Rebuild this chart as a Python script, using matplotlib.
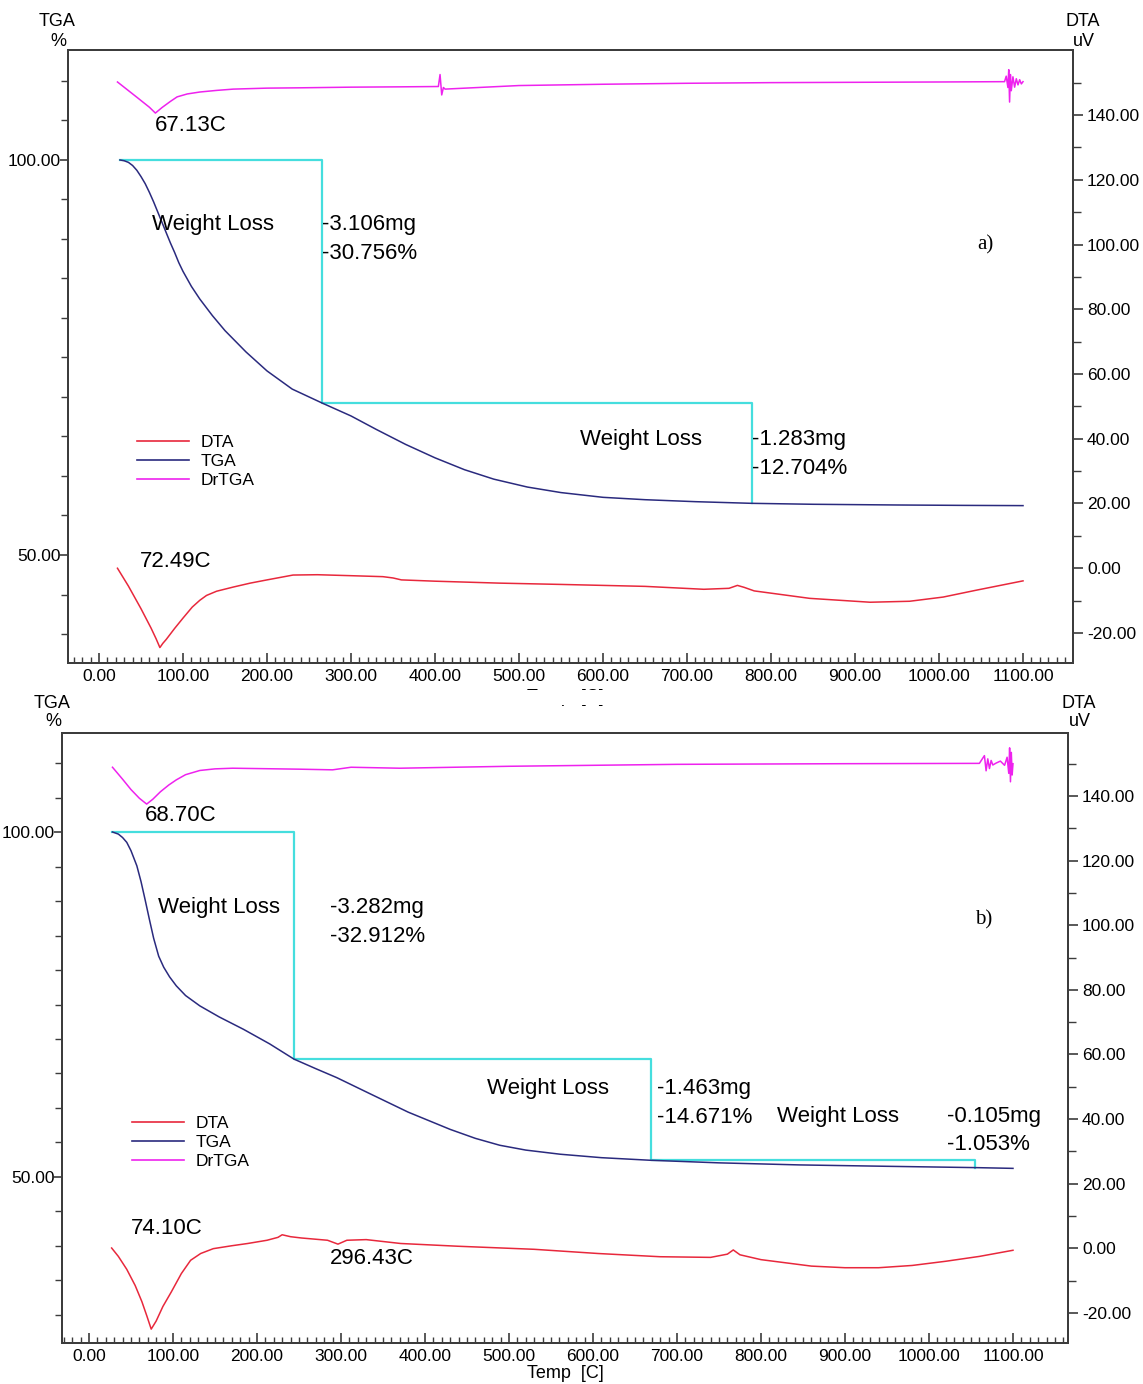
import numpy as np
import matplotlib.pyplot as plt
from matplotlib.ticker import MultipleLocator, FixedLocator, FormatStrFormatter
from matplotlib.patches import Rectangle

plt.rcParams['font.family'] = ['Liberation Sans', 'DejaVu Sans']
plt.rcParams['axes.unicode_minus'] = False

# ---------------- panel a) data ----------------
tga_a_T = [25, 30, 35, 40, 45, 50, 55, 60, 65, 70, 75, 80, 85, 90, 95, 100, 110, 120, 135, 150, 175, 200, 230,
           265.5, 300, 330, 365, 400, 435, 470, 510, 550, 600, 650, 710, 777, 850, 950, 1030, 1100]
tga_a_w = [100, 99.9, 99.7, 99.3, 98.7, 97.9, 97.0, 95.9, 94.7, 93.4, 92.1, 90.8, 89.5, 88.3, 87.0, 85.9, 84.0,
           82.4, 80.3, 78.4, 75.7, 73.3, 71.0, 69.24, 67.6, 65.9, 64.0, 62.3, 60.8, 59.6, 58.6, 57.9, 57.3, 57.0,
           56.75, 56.54, 56.42, 56.33, 56.28, 56.25]

dta_a_T = [22, 35, 50, 62, 68, 72.49, 76, 80, 90, 100, 111, 120, 128, 140, 160, 180, 200, 231, 260, 300, 338, 350,
           360, 400, 477, 550, 650, 720, 750, 760, 768, 780, 846, 918, 965, 1005, 1044, 1100]
dta_a_v = [0.0, -5.5, -12.5, -18.5, -21.8, -24.5, -23.2, -22.0, -18.6, -15.4, -12.0, -9.9, -8.4, -7.1, -5.8, -4.6,
           -3.6, -2.1, -2.0, -2.3, -2.6, -3.0, -3.6, -4.0, -4.6, -5.0, -5.6, -6.5, -6.2, -5.3, -5.9, -7.0, -9.3,
           -10.5, -10.2, -8.9, -6.8, -3.9]

drtga_a_T = [22, 45, 60, 67.13, 75, 85, 93, 105, 120, 140, 160, 200, 239, 300, 358, 404, 406, 408, 410, 412, 500,
             600, 700, 800, 900, 1000, 1078, 1080, 1082, 1083, 1084, 1085, 1086, 1088, 1090, 1092, 1094, 1096,
             1098, 1100]
drtga_a_v = [150.2, 145.5, 142.4, 140.6, 142.3, 144.2, 145.6, 146.5, 147.1, 147.6, 148.0, 148.3, 148.4, 148.6,
             148.7, 148.8, 152.5, 146.2, 148.5, 148.0, 149.1, 149.5, 149.8, 150.0, 150.1, 150.2, 150.3, 152.0,
             148.5, 154.0, 144.0, 152.5, 147.5, 151.8, 148.6, 151.2, 149.3, 150.9, 149.6, 150.3]

steps_a_T = [25, 265.5, 777]          # start, step temperatures
steps_a_w = [100, 69.24, 56.54]       # TGA levels at the steps

# ---------------- panel b) data ----------------
tga_b_T = [28, 35, 40, 45, 50, 57, 62, 67, 72, 77, 83, 89, 96, 104, 115, 132, 155, 184, 215, 244, 270, 295, 334,
           380, 430, 460, 489, 520, 561, 610, 669, 750, 846, 950, 1055, 1100]
tga_b_w = [100, 99.7, 99.2, 98.5, 97.3, 95.1, 92.8, 90.1, 87.3, 84.6, 82.0, 80.4, 79.0, 77.7, 76.3, 74.8, 73.2,
           71.4, 69.3, 67.09, 65.7, 64.4, 62.1, 59.4, 56.9, 55.6, 54.6, 53.9, 53.3, 52.8, 52.42, 52.05, 51.75,
           51.55, 51.36, 51.25]

dta_b_T = [27, 35, 45, 55, 63, 69, 74.1, 80, 88, 98, 110, 121, 133, 148, 170, 189, 212, 225, 230, 240, 253, 284,
           296.43, 307, 330, 371, 439, 530, 606, 680, 740, 760, 767, 775, 800, 830, 860, 900, 940, 980, 1020, 1060,
           1100]
dta_b_v = [0.1, -2.5, -6.5, -11.5, -16.5, -21.0, -25.0, -22.5, -18.0, -13.5, -7.8, -3.7, -1.6, -0.1, 0.8, 1.5,
           2.5, 3.4, 4.2, 3.6, 3.2, 2.5, 1.3, 2.5, 2.7, 1.5, 0.65, -0.3, -1.6, -2.6, -2.8, -1.8, -0.5, -2.0, -3.5,
           -4.5, -5.5, -6.0, -6.0, -5.3, -4.0, -2.5, -0.6]

drtga_b_T = [28, 40, 50, 60, 68.70, 76, 85, 95, 104, 115, 132, 150, 171, 251, 290, 312, 370, 500, 700, 900, 1060,
             1066, 1068, 1070, 1072, 1074, 1076, 1080, 1085, 1090, 1093, 1095, 1096, 1097, 1098, 1099, 1100]
drtga_b_v = [148.9, 145.2, 142.0, 139.3, 137.5, 139.0, 141.3, 143.4, 145.0, 146.6, 147.9, 148.4, 148.6, 148.3,
             148.1, 148.9, 148.6, 149.2, 149.8, 150.0, 150.1, 152.5, 147.8, 151.5, 148.5, 151.0, 149.6, 150.2,
             150.8, 149.5, 152.0, 147.0, 154.9, 144.4, 153.5, 146.5, 150.0]

steps_b_T = [28, 244, 669, 1055]
steps_b_w = [100, 67.09, 52.42, 51.36]

dta_ticks = [-20, 0, 20, 40, 60, 80, 100, 120, 140]
tga_ticks = [50, 100]
temp_ticks = [0, 100, 200, 300, 400, 500, 600, 700, 800, 900, 1000, 1100]

C_DTA = '#e8283c'
C_TGA = '#2a2a7e'
C_DR = '#ee22ee'
C_STEP = '#45dede'
C_AX = '#3c3c3c'

W, H = 1143, 1384
fig = plt.figure(figsize=(W / 100, H / 100), dpi=100)


def px_box(l, t, r, b):
    return [l / W, 1 - b / H, (r - l) / W, (b - t) / H]


def make_panel(box, xlim, ylim_l, ylim_r):
    ax = fig.add_axes(box)
    ax2 = ax.twinx()
    ax.set_xlim(*xlim)
    ax.set_ylim(*ylim_l)
    ax2.set_ylim(*ylim_r)
    for a in (ax, ax2):
        for s in a.spines.values():
            s.set_color(C_AX)
            s.set_linewidth(1.4)
    ax.xaxis.set_major_locator(FixedLocator(temp_ticks))
    ax.xaxis.set_minor_locator(MultipleLocator(10))
    ax.xaxis.set_major_formatter(FormatStrFormatter('%.2f'))
    ax.tick_params(axis='x', which='major', direction='in', length=7, width=1.2, color=C_AX,
                   labelsize=12.5, pad=4, top=False)
    ax.tick_params(axis='x', which='minor', direction='in', length=4, width=1.0, color=C_AX, top=False)
    ax.yaxis.set_major_locator(FixedLocator(tga_ticks))
    ax.yaxis.set_minor_locator(MultipleLocator(5))
    ax.yaxis.set_major_formatter(FormatStrFormatter('%.2f'))
    ax.tick_params(axis='y', which='major', direction='out', length=6, width=1.2, color=C_AX,
                   labelsize=12.5, pad=-1)
    ax.tick_params(axis='y', which='minor', direction='out', length=5, width=1.0, color=C_AX)
    ax2.yaxis.set_major_locator(FixedLocator(dta_ticks))
    ax2.yaxis.set_minor_locator(FixedLocator(np.arange(-30, 160, 10)))
    ax2.yaxis.set_major_formatter(FormatStrFormatter('%.2f'))
    ax2.tick_params(axis='y', which='major', direction='out', length=7, width=1.2, color=C_AX,
                    labelsize=12.5, pad=3)
    ax2.tick_params(axis='y', which='minor', direction='out', length=6, width=1.0, color=C_AX)
    return ax, ax2


def draw_steps(ax, T, w):
    xs, ys = [T[0]], [w[0]]
    for i in range(1, len(T)):
        xs += [T[i], T[i]]
        ys += [w[i - 1], w[i]]
    ax.plot(xs, ys, color=C_STEP, lw=1.6, zorder=2)


def legend(ax, anchor):
    h = [plt.Line2D([], [], color=C_DTA, lw=1.2),
         plt.Line2D([], [], color=C_TGA, lw=1.2),
         plt.Line2D([], [], color=C_DR, lw=1.2)]
    ax.legend(h, ['DTA', 'TGA', 'DrTGA'], loc='upper left', bbox_to_anchor=anchor, frameon=False,
              fontsize=12.5, handlelength=3.0, handletextpad=0.65, labelspacing=0.22, borderpad=0,
              borderaxespad=0)


# ---------------- panel a ----------------
axa, axa2 = make_panel(px_box(68, 50, 1073, 663), (-36.9, 1159.5), (36.33, 113.92), (-29.27, 160.08))
axa2.plot(drtga_a_T, drtga_a_v, color=C_DR, lw=1.1)
axa2.plot(dta_a_T, dta_a_v, color=C_DTA, lw=1.1)
axa.plot(tga_a_T, tga_a_w, color=C_TGA, lw=1.1, zorder=3)
draw_steps(axa, steps_a_T, steps_a_w)
axa.set_zorder(axa2.get_zorder() + 1)
axa.patch.set_visible(False)

fs = 16
axa2.text(66.7, 136.9, '67.13C', fontsize=fs, va='center', ha='left')
axa2.text(48.8, 2.2, '72.49C', fontsize=fs, va='center', ha='left')
axa.text(63, 91.8, 'Weight Loss', fontsize=fs, va='center', ha='left')
axa.text(265.5, 91.8, '-3.106mg', fontsize=fs, va='center', ha='left')
axa.text(265.5, 88.2, '-30.756%', fontsize=fs, va='center', ha='left')
axa.text(572.6, 64.6, 'Weight Loss', fontsize=fs, va='center', ha='left')
axa.text(777.4, 64.6, '-1.283mg', fontsize=fs, va='center', ha='left')
axa.text(777.4, 61.0, '-12.704%', fontsize=fs, va='center', ha='left')
axa.text(1046, 89.2, 'a)', fontsize=15, va='center', ha='left', family='Liberation Serif')
legend(axa, ((137 - 68) / 1005, 1 - (435 - 50) / 613))

# ---------------- panel b ----------------
axb, axb2 = make_panel(px_box(62, 733, 1068, 1343), (-32.1, 1165.5), (25.94, 114.35), (-29.3, 159.5))
axb2.plot(drtga_b_T, drtga_b_v, color=C_DR, lw=1.1)
axb2.plot(dta_b_T, dta_b_v, color=C_DTA, lw=1.1)
axb.plot(tga_b_T, tga_b_w, color=C_TGA, lw=1.1, zorder=3)
draw_steps(axb, steps_b_T, steps_b_w)
axb.set_zorder(axb2.get_zorder() + 1)
axb.patch.set_visible(False)

axb2.text(66.7, 134.1, '68.70C', fontsize=fs, va='center', ha='left')
axb2.text(50, 6.0, '74.10C', fontsize=fs, va='center', ha='left')
axb2.text(287, -3.0, '296.43C', fontsize=fs, va='center', ha='left')
axb.text(82, 89.1, 'Weight Loss', fontsize=fs, va='center', ha='left')
axb.text(287, 89.1, '-3.282mg', fontsize=fs, va='center', ha='left')
axb.text(287, 84.9, '-32.912%', fontsize=fs, va='center', ha='left')
axb.text(474, 62.8, 'Weight Loss', fontsize=fs, va='center', ha='left')
axb.text(676, 62.8, '-1.463mg', fontsize=fs, va='center', ha='left')
axb.text(676, 58.6, '-14.671%', fontsize=fs, va='center', ha='left')
axb.text(819, 58.8, 'Weight Loss', fontsize=fs, va='center', ha='left')
axb.text(1021, 58.8, '-0.105mg', fontsize=fs, va='center', ha='left')
axb.text(1021, 54.7, '-1.053%', fontsize=fs, va='center', ha='left')
axb.text(1055, 87.2, 'b)', fontsize=15, va='center', ha='left', family='Liberation Serif')
legend(axb, ((132 - 62) / 1006, 1 - (1116 - 733) / 610))

# ---------------- axis headers ----------------
def ftext(x, y, s, **kw):
    fig.text(x / W, 1 - y / H, s, ha='center', va='center', fontsize=13, **kw)


ftext(57, 22, 'TGA')
ftext(58, 41, '%')
ftext(1083, 22, 'DTA')
ftext(1084, 41, 'uV')
ftext(52, 703, 'TGA')
ftext(53, 722, '%')
ftext(1079, 703, 'DTA')
ftext(1080, 722, 'uV')
ftext(565, 697, 'Temp  [C]')
fig.patches.append(Rectangle((460 / W, 1 - 705 / H), 220 / W, 15 / H, transform=fig.transFigure,
                             facecolor='white', edgecolor='none', zorder=5))
ftext(565, 1373, 'Temp  [C]')

fig.savefig('out.png', dpi=100, facecolor='white')
